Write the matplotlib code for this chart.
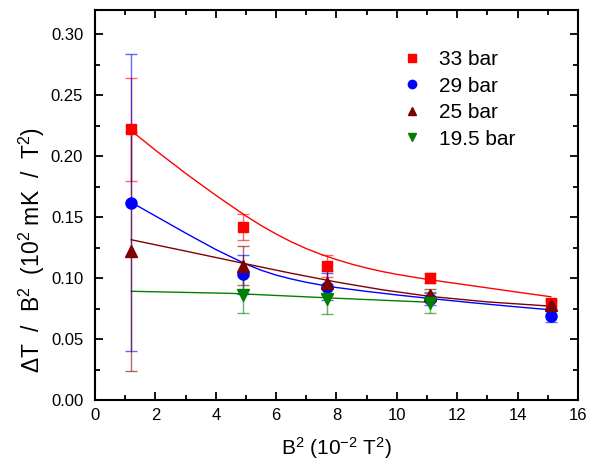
import numpy as np
import matplotlib
matplotlib.use('Agg')
import matplotlib.pyplot as plt
from matplotlib.ticker import MultipleLocator, FormatStrFormatter

plt.rcParams['font.family'] = ['Liberation Sans', 'DejaVu Sans']
plt.rcParams['mathtext.fontset'] = 'custom'
plt.rcParams['mathtext.rm'] = 'Liberation Sans'
plt.rcParams['mathtext.it'] = 'Liberation Sans:italic'

# measured points, B^2 [10^-2 T^2]
b2 = [1.2, 4.9, 7.7, 11.1, 15.1]
dt_33 = [0.222, 0.142, 0.110, 0.100, 0.080]
err_33 = [0.042, 0.0105, 0.009, 0.004, 0.003]
dt_29 = [0.162, 0.103, 0.093, 0.083, 0.069]
err_29 = [0.1215, 0.016, 0.011, 0.005, 0.005]
dt_25 = [0.122, 0.110, 0.096, 0.086, 0.078]
err_25 = [0.098, 0.016, 0.010, 0.005, 0.003]
b2_195 = [4.9, 7.7, 11.1]
dt_195 = [0.0865, 0.083, 0.080]
err_195 = [0.0155, 0.0125, 0.0085]

# fitted curves
fit33_x = [1.2, 2.0, 3.0, 4.0, 5.0, 5.5, 6.0, 6.5, 7.0, 7.5, 8.0, 8.5, 9.0, 9.5, 10.0,
           11.0, 12.0, 13.0, 14.0, 15.1]
fit33_y = [0.221, 0.205, 0.186, 0.168, 0.151, 0.1432, 0.1362, 0.1298, 0.1242, 0.1194,
           0.1152, 0.1115, 0.1083, 0.1055, 0.1031, 0.0990, 0.0955, 0.0920, 0.0885, 0.0847]
fit29_x = [1.2, 2.0, 3.0, 4.0, 5.0, 5.5, 6.0, 6.5, 7.0, 7.5, 8.0, 9.0, 10.0, 11.1,
           12.5, 13.8, 15.1]
fit29_y = [0.1622, 0.151, 0.137, 0.1235, 0.1115, 0.1065, 0.1025, 0.0993, 0.0966, 0.0943,
           0.0923, 0.0891, 0.0862, 0.0833, 0.0798, 0.0768, 0.0740]
fit25_x = [1.2, 3.0, 5.0, 6.5, 8.0, 9.5, 11.1, 13.0, 15.1]
fit25_y = [0.1315, 0.1222, 0.1117, 0.1040, 0.0968, 0.0905, 0.0850, 0.0805, 0.0770]
fit195_x = [1.2, 4.5, 8.0, 11.1]
fit195_y = [0.0892, 0.0875, 0.0835, 0.0802]

series = [
    ('33 bar', b2, dt_33, err_33, fit33_x, fit33_y, '#ff0000', 's', 7),
    ('29 bar', b2, dt_29, err_29, fit29_x, fit29_y, '#0000ff', 'o', 8),
    ('25 bar', b2, dt_25, err_25, fit25_x, fit25_y, '#800000', '^', 8.5),
    ('19.5 bar', b2_195, dt_195, err_195, fit195_x, fit195_y, '#008000', 'v', 8.5),
]

fig = plt.figure(figsize=(5.89, 4.68), dpi=100)
ax = fig.add_axes([0.1613, 0.1453, 0.82, 0.8333])

for label, x, y, e, fx, fy, c, m, ms in series:
    ax.plot(fx, fy, color=c, lw=1.0, zorder=2)
for label, x, y, e, fx, fy, c, m, ms in series:
    ax.errorbar(x, y, yerr=e, fmt='none', ecolor=c, elinewidth=1.0, capsize=4,
                capthick=1.0, alpha=0.6, zorder=3)
for label, x, y, e, fx, fy, c, m, ms in series:
    ax.plot(x, y, ls='none', marker=m, ms=ms, color=c, mec=c, label=label, zorder=4)

ax.set_xlim(0, 16)
ax.set_ylim(0, 0.32)
ax.xaxis.set_major_locator(MultipleLocator(2))
ax.xaxis.set_minor_locator(MultipleLocator(1))
ax.yaxis.set_minor_locator(MultipleLocator(0.025))
ax.set_yticks(np.arange(0, 0.301, 0.05))
ax.yaxis.set_major_formatter(FormatStrFormatter('%.2f'))
ax.tick_params(which='both', direction='in', top=True, right=True, labelsize=12, width=1.3)
ax.tick_params(which='major', length=6)
ax.tick_params(which='minor', length=3.5)
ax.tick_params(axis='x', which='major', pad=5.5)
ax.tick_params(axis='y', which='major', pad=8.5)
for s in ax.spines.values():
    s.set_linewidth(1.5)

ax.set_xlabel(r'B$^2$ (10$^{-2}$ T$^2$)', fontsize=15, labelpad=9)
ax.set_ylabel(r'$\Delta$T  /  B$^2$  (10$^2$ mK  /  T$^2$)', fontsize=16.5)
ax.yaxis.set_label_coords(-0.10, 0.385)

ax.legend(loc='upper left', bbox_to_anchor=(0.595, 0.945), frameon=False, fontsize=15,
          handlelength=1.0, handletextpad=0.8, labelspacing=0.36, markerscale=0.75)

fig.savefig('out.png', dpi=100)
